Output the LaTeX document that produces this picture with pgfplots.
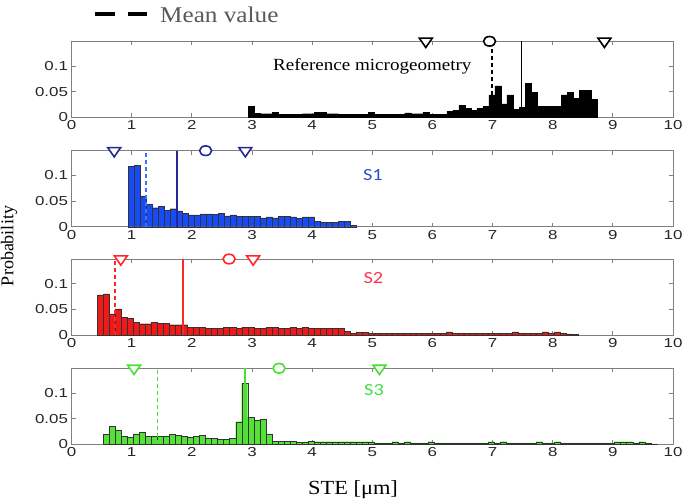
\documentclass[border=0pt]{standalone}
\usepackage{pgfplots}
\pgfplotsset{compat=1.18}
\usepackage{fontspec}
\setmainfont{Liberation Serif}
\newfontfamily\wideserif[FakeStretch=1.12]{Liberation Serif}
\newfontfamily\tickfont[FakeStretch=1.3]{Liberation Sans}
\newfontfamily\sfont[FakeStretch=1.2]{Carlito}
\definecolor{axgray}{RGB}{128,128,128}
\definecolor{bblue}{RGB}{25,75,245}
\definecolor{navy}{RGB}{35,40,150}
\definecolor{lblue}{RGB}{60,110,255}
\definecolor{s1blue}{RGB}{45,80,200}
\definecolor{bred}{RGB}{240,25,25}
\definecolor{mred}{RGB}{255,40,40}
\definecolor{s2red}{RGB}{255,50,80}
\definecolor{bgreen}{RGB}{85,225,55}
\definecolor{mgreen}{RGB}{70,225,50}
\definecolor{s3green}{RGB}{70,220,70}
\pgfplotsset{panel/.style={scale only axis, width=601.5pt, height=76pt,
  xmin=0, xmax=10, ymin=0, ymax=0.148,
  xtick={0,1,...,10}, ytick={0,0.05,0.1},
  xticklabels={0,1,2,3,4,5,6,7,8,9,10}, yticklabels={0,0.05,0.1},
  scaled ticks=false,
  clip=false, anchor=south west,
  axis line style={axgray, line width=0.8pt},
  major tick length=4pt, tick style={axgray, line width=0.8pt},
  tick label style={font=\tickfont\fontsize{13}{15}\selectfont, text=black!85},
  /pgf/number format/assume math mode=true},
  tri/.style={only marks, mark=triangle*, mark size=6.2pt, mark options={rotate=180, xscale=1.2, line width=1.6pt, fill=white, draw=#1}},
  circ/.style={only marks, mark=*, mark size=4.8pt, mark options={xscale=1.25, line width=1.6pt, fill=white, draw=#1}},
  bars/.style={ybar, bar width=0.1, fill=#1, draw=black!80, line width=0.4pt},
  mdash/.style={#1, line width=1.8pt, dash pattern=on 4pt off 3pt},
  msolid/.style={#1, line width=1.7pt}}
\begin{document}
\begin{tikzpicture}
\useasboundingbox (0,0) rectangle (685pt,499pt);
% Panel 1: Reference
\begin{axis}[panel, at={(71.5pt,381.7pt)}]
\addplot[bars=black, draw=black] coordinates {(2.99,0.021)(3.09,0.008)(3.19,0.007)(3.29,0.007)(3.39,0.009)(3.49,0.006)(3.59,0.006)(3.69,0.006)(3.79,0.006)(3.89,0.007)(3.99,0.007)(4.09,0.009)(4.19,0.009)(4.29,0.007)(4.39,0.007)(4.49,0.006)(4.59,0.006)(4.69,0.006)(4.79,0.006)(4.89,0.006)(4.99,0.010)(5.09,0.006)(5.19,0.006)(5.29,0.006)(5.39,0.006)(5.49,0.006)(5.59,0.0085)(5.69,0.007)(5.79,0.007)(5.89,0.009)(5.99,0.006)(6.09,0.006)(6.19,0.006)(6.29,0.011)(6.39,0.014)(6.49,0.023)(6.59,0.018)(6.69,0.014)(6.79,0.017)(6.89,0.021)(6.99,0.0435)(7.09,0.061)(7.19,0.026)(7.29,0.0435)(7.39,0.016)(7.49,0.019)(7.59,0.066)(7.69,0.048)(7.79,0.022)(7.89,0.021)(7.99,0.021)(8.09,0.021)(8.19,0.0435)(8.29,0.049)(8.39,0.037)(8.49,0.052)(8.59,0.052)(8.69,0.035)};
\addplot[msolid=black] coordinates {(7.48,0) (7.48,0.148)};
\addplot[mdash=black] coordinates {(6.99,0.0435) (6.99,0.148)};
\addplot[tri=black] coordinates {(5.89,0.148) (8.86,0.148)};
\addplot[circ=black] coordinates {(6.95,0.148)};
\node[anchor=west, inner sep=0pt, font=\wideserif\fontsize{17}{19}\selectfont] at (axis cs:3.35,0.0998) {Reference microgeometry};
\end{axis}
% Panel 2: S1
\begin{axis}[panel, at={(71.5pt,272.3pt)}]
\addplot[bars=bblue] coordinates {(0.99,0.117)(1.09,0.119)(1.19,0.060)(1.29,0.044)(1.39,0.037)(1.49,0.039)(1.59,0.032)(1.69,0.035)(1.79,0.031)(1.89,0.026)(1.99,0.023)(2.09,0.023)(2.19,0.025)(2.29,0.025)(2.39,0.024)(2.49,0.026)(2.59,0.021)(2.69,0.023)(2.79,0.020)(2.89,0.020)(2.99,0.020)(3.09,0.020)(3.19,0.017)(3.29,0.019)(3.39,0.017)(3.49,0.020)(3.59,0.020)(3.69,0.019)(3.79,0.016)(3.89,0.019)(3.99,0.019)(4.09,0.010)(4.19,0.009)(4.29,0.009)(4.39,0.009)(4.49,0.011)(4.59,0.011)(4.69,0.003)};
\addplot[msolid=navy] coordinates {(1.75,0) (1.75,0.148)};
\addplot[mdash=lblue] coordinates {(1.24,0) (1.24,0.148)};
\addplot[tri=navy] coordinates {(0.71,0.148) (2.89,0.148)};
\addplot[circ=navy] coordinates {(2.23,0.148)};
\node[text=s1blue, font=\sfont\fontsize{17}{19}\selectfont] at (axis cs:5.01,0.1006) {S1};
\end{axis}
% Panel 3: S2
\begin{axis}[panel, at={(71.5pt,164pt)}]
\addplot[bars=bred] coordinates {(0.48,0.078)(0.58,0.080)(0.68,0.041)(0.78,0.051)(0.88,0.034)(0.98,0.032)(1.08,0.025)(1.18,0.022)(1.28,0.022)(1.38,0.025)(1.48,0.023)(1.58,0.023)(1.68,0.020)(1.78,0.020)(1.88,0.020)(1.98,0.0155)(2.08,0.0155)(2.18,0.0155)(2.28,0.0125)(2.38,0.0125)(2.48,0.0125)(2.58,0.0155)(2.68,0.0155)(2.78,0.0125)(2.88,0.0155)(2.98,0.0155)(3.08,0.0125)(3.18,0.0135)(3.28,0.0155)(3.38,0.0155)(3.48,0.0125)(3.58,0.0135)(3.68,0.0155)(3.78,0.0135)(3.88,0.0155)(3.98,0.0125)(4.08,0.0125)(4.18,0.0125)(4.28,0.0125)(4.38,0.0125)(4.48,0.013)(4.58,0.007)(4.68,0.003)(4.78,0.005)(4.88,0.005)(4.98,0.003)(5.08,0.003)(5.18,0.003)(5.28,0.003)(5.38,0.003)(5.48,0.003)(5.58,0.003)(5.68,0.003)(5.78,0.003)(5.88,0.003)(5.98,0.0035)(6.08,0.003)(6.18,0.003)(6.28,0.006)(6.38,0.003)(6.48,0.003)(6.58,0.003)(6.68,0.003)(6.78,0.003)(6.88,0.003)(6.98,0.0035)(7.08,0.003)(7.18,0.003)(7.28,0.003)(7.38,0.006)(7.48,0.003)(7.58,0.003)(7.68,0.003)(7.78,0.003)(7.88,0.006)(7.98,0.003)(8.08,0.006)(8.18,0.003)(8.28,0.002)(8.38,0.0008)};
\addplot[msolid=mred] coordinates {(1.85,0) (1.85,0.148)};
\addplot[mdash=mred] coordinates {(0.72,0) (0.72,0.148)};
\addplot[tri=mred] coordinates {(0.82,0.148) (3.02,0.148)};
\addplot[circ=mred] coordinates {(2.62,0.148)};
\node[text=s2red, font=\sfont\fontsize{17}{19}\selectfont] at (axis cs:5.02,0.110) {S2};
\end{axis}
% Panel 4: S3
\begin{axis}[panel, at={(71.5pt,54.7pt)}]
\addplot[bars=bgreen] coordinates {(0.58,0.019)(0.68,0.035)(0.78,0.028)(0.88,0.016)(0.98,0.014)(1.08,0.0205)(1.18,0.0237)(1.28,0.015)(1.38,0.015)(1.48,0.015)(1.58,0.015)(1.68,0.019)(1.78,0.017)(1.88,0.015)(1.98,0.014)(2.08,0.016)(2.18,0.017)(2.28,0.012)(2.38,0.012)(2.48,0.0095)(2.58,0.0095)(2.68,0.012)(2.78,0.044)(2.88,0.119)(2.98,0.053)(3.08,0.046)(3.18,0.048)(3.28,0.0205)(3.38,0.0055)(3.48,0.0055)(3.58,0.0055)(3.68,0.0055)(3.78,0.004)(3.88,0.004)(3.98,0.0055)(4.08,0.005)(4.18,0.005)(4.28,0.005)(4.38,0.005)(4.48,0.005)(4.58,0.005)(4.68,0.005)(4.78,0.005)(4.88,0.005)(4.98,0.005)(5.08,0.003)(5.18,0.003)(5.28,0.003)(5.38,0.005)(5.48,0.003)(5.58,0.005)(5.68,0.003)(5.78,0.003)(5.88,0.003)(5.98,0.005)(6.08,0.003)(6.18,0.003)(6.28,0.003)(6.38,0.003)(6.48,0.003)(6.58,0.003)(6.68,0.003)(6.78,0.003)(6.88,0.003)(6.98,0.005)(7.08,0.003)(7.18,0.005)(7.28,0.003)(7.38,0.003)(7.48,0.003)(7.58,0.003)(7.68,0.003)(7.78,0.005)(7.88,0.003)(7.98,0.003)(8.08,0.005)(8.18,0.003)(8.28,0.003)(8.38,0.003)(8.48,0.003)(8.58,0.003)(8.68,0.003)(8.78,0.003)(8.88,0.003)(8.98,0.003)(9.08,0.005)(9.18,0.005)(9.28,0.005)(9.38,0.003)(9.48,0.005)(9.58,0.003)(9.68,0.001)};
\addplot[msolid=mgreen] coordinates {(2.88,0) (2.88,0.148)};
\addplot[mdash=mgreen] coordinates {(1.43,0) (1.43,0.148)};
\addplot[tri=mgreen] coordinates {(1.04,0.148) (5.12,0.148)};
\addplot[circ=mgreen] coordinates {(3.45,0.148)};
\node[text=s3green, font=\sfont\fontsize{17}{19}\selectfont] at (axis cs:5.03,0.1054) {S3};
\end{axis}
% legend and labels
\draw[black, line width=4.5pt] (95pt,484.8pt) -- (115pt,484.8pt);
\draw[black, line width=4.5pt] (128pt,484.8pt) -- (147pt,484.8pt);
\node[anchor=base west, inner sep=0pt, text=black!65, font=\wideserif\fontsize{22.5}{25}\selectfont] at (160pt,476.3pt) {Mean value};
\node[rotate=90, font=\fontsize{18}{20}\selectfont] at (9pt,253pt) {Probability};
\node[anchor=base, inner sep=0pt, font=\wideserif\fontsize{20}{22}\selectfont] at (353pt,5pt) {STE [μm]};
\end{tikzpicture}
\end{document}
